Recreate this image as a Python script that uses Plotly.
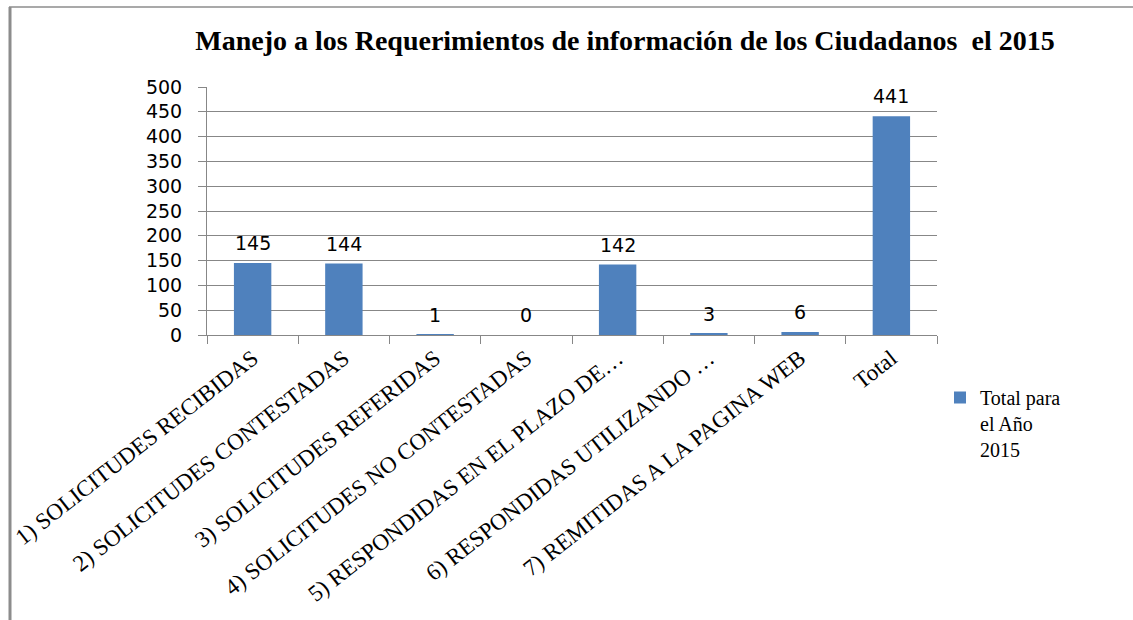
import plotly.graph_objects as go

categories = [
    "1) SOLICITUDES RECIBIDAS",
    "2) SOLICITUDES CONTESTADAS",
    "3) SOLICITUDES REFERIDAS",
    "4) SOLICITUDES NO CONTESTADAS",
    "5) RESPONDIDAS EN EL PLAZO DE…",
    "6) RESPONDIDAS UTILIZANDO …",
    "7) REMITIDAS A LA PAGINA WEB",
    "Total",
]
values = [145, 144, 1, 0, 142, 3, 6, 441]
series_name = "Total para<br>el Año<br>2015"
y_ticks = [0, 50, 100, 150, 200, 250, 300, 350, 400, 450, 500]

W, H = 1133, 620
L, R, T, B = 207, 196, 87, 285
pw, ph = W - L - R, H - T - B

def px_x(x):
    return (x - L) / pw

def px_y(y):
    return (H - B - y) / ph

fig = go.Figure()
fig.add_trace(go.Bar(
    x=categories, y=values, name=series_name,
    marker=dict(color="#4F81BD", line=dict(width=0)),
    showlegend=True,
))

for c, v in zip(categories, values):
    fig.add_annotation(
        x=c, y=v, text=str(v), showarrow=False, yanchor="middle", yshift=20,
        font=dict(family="DejaVu Sans", size=19, color="#000000"),
    )

grid = "#878787"
fig.update_layout(
    width=W, height=H,
    margin=dict(l=L, r=R, t=T, b=B, pad=0, autoexpand=False),
    paper_bgcolor="white", plot_bgcolor="white",
    bargap=0.59,
    title=dict(
        text="<b>Manejo a los Requerimientos de información de los Ciudadanos  el 2015</b>",
        x=625 / W, xanchor="center", y=1 - 40 / H, yanchor="middle",
        font=dict(family="Liberation Serif", size=28, color="#000000"),
    ),
    xaxis=dict(
        type="category", tickangle=-38, showgrid=False, automargin=False,
        showline=True, linecolor=grid, linewidth=1,
        ticks="outside", tickson="boundaries", ticklen=8, tickcolor=grid,
        tickfont=dict(family="Liberation Serif", size=23, color="#000000"),
    ),
    yaxis=dict(
        range=[0, 500], tickvals=y_ticks, showgrid=True, gridcolor=grid, gridwidth=1,
        showline=True, linecolor=grid, linewidth=1, automargin=False,
        ticks="outside", ticklen=8, tickcolor=grid, ticklabelstandoff=12,
        tickfont=dict(family="DejaVu Sans", size=19, color="#000000"),
        zeroline=False,
    ),
    legend=dict(
        x=px_x(940), xanchor="left", y=px_y(378), yanchor="top",
        valign="top",
        font=dict(family="Liberation Serif", size=20, color="#000000"),
        bgcolor="rgba(0,0,0,0)",
    ),
    shapes=[
        dict(type="line", xref="paper", yref="paper",
             x0=px_x(10), x1=px_x(10), y0=px_y(7), y1=px_y(H),
             line=dict(color="#8c8c8c", width=3)),
        dict(type="line", xref="paper", yref="paper",
             x0=px_x(9), x1=px_x(W), y0=px_y(7), y1=px_y(7),
             line=dict(color="#8c8c8c", width=1.5)),
    ],
)

fig.write_html(
    "out.html",
    config={"displayModeBar": False},
    post_script="document.body.style.margin='0';document.body.style.padding='0';",
)
